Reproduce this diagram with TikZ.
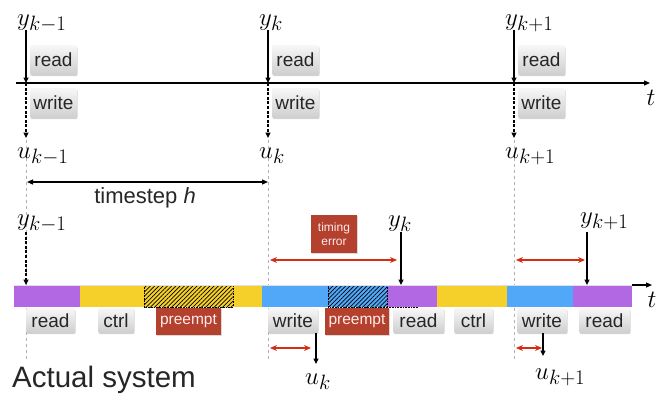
\documentclass[tikz,border=0pt]{standalone}
\usepackage[no-math]{fontspec}
\setmainfont{Liberation Sans}
\usetikzlibrary{arrows.meta,shadows,patterns.meta}
\DeclareMathSizes{27}{27}{21}{16}

\definecolor{cpurple}{RGB}{178,104,226}
\definecolor{cyellow}{RGB}{246,208,42}
\definecolor{cblue}{RGB}{82,168,248}
\definecolor{cbrick}{RGB}{180,64,46}
\definecolor{carrow}{RGB}{214,44,20}

\tikzset{
  gbox/.style={rounded corners=2pt, top color=gray!6, bottom color=gray!38,
    draw=none, text=black!85, inner sep=0pt,
    font=\fontsize{19}{19}\selectfont,
    drop shadow={shadow xshift=0.6pt, shadow yshift=-1.2pt, opacity=0.35}},
  rbox/.style={fill=cbrick, text=white!92!red, inner sep=0pt,
    font=\fontsize{15.5}{15.5}\selectfont,
    drop shadow={shadow xshift=0.6pt, shadow yshift=-1.2pt, opacity=0.3}},
  mlab/.style={inner sep=0pt, font=\fontsize{27}{27}\selectfont},
  sarrow/.style={line width=1.1pt, -{Triangle[length=5.5pt,width=5pt]}},
  darrow/.style={line width=1.1pt, dash pattern=on 3pt off 1.6pt,
    -{Triangle[length=5.5pt,width=5pt]}},
  guide/.style={gray!60, line width=0.8pt, dash pattern=on 3pt off 3pt},
  rarrow/.style={carrow, line width=1.1pt,
    {Stealth[length=7pt,width=6pt]}-{Stealth[length=7pt,width=6pt]}},
  tarrow/.style={line width=1.2pt, {Triangle[length=6pt,width=5pt]}-{Triangle[length=6pt,width=5pt]}},
  hatch/.style={pattern={Lines[angle=45,distance=3pt,line width=0.7pt]}},
}

\begin{document}
\begin{tikzpicture}[x=1pt,y=-1pt]
\useasboundingbox (0,0) rectangle (665,394);

% ---------- ideal timeline ----------
% grey guide lines through the sampling instants
\draw[guide] (26,140) -- (26,362);
\draw[guide] (268,140) -- (268,362);
\draw[guide] (514,140) -- (514,362);

\coordinate (tstart) at (16,83);
\coordinate (tend) at (650,83);
\draw[line width=1.2pt, -{Triangle[length=6pt,width=5pt]}] (tstart) -- (tend);
\node[mlab] (tlab) at (651,98) {$t$};

% one column per sampling instant
\foreach \x/\n/\ys/\us in {26/1/{k-1}/{k-1}, 268/2/{k}/{k}, 514/3/{k+1}/{k+1}}{
  \node[mlab, anchor=base west] (y\n) at (\x-9,25) {$y_{\ys}$};
  \node[mlab, anchor=base west] (u\n) at (\x-9,158) {$u_{\us}$};
  \coordinate (ya\n) at (\x,30);
  \coordinate (ax\n) at (\x,83);
  \coordinate (ua\n) at (\x,138);
  \draw[sarrow] (ya\n) -- (ax\n);
  \draw[darrow] (ax\n) -- (ua\n);
  \node[gbox, minimum width=47pt, minimum height=30pt] (rd\n) at (\x+27.5,60) {read};
  \node[gbox, minimum width=47pt, minimum height=30pt] (wr\n) at (\x+27.5,103) {write};
}

% timestep
\coordinate (hs) at (27,182);
\coordinate (he) at (268,182);
\draw[tarrow] (hs) -- (he);
\node[inner sep=0pt, font=\fontsize{22}{22}\selectfont, text=black!85]
  (hlab) at (145,198) {timestep \textit{h}};

% ---------- actual system ----------
% execution bar
\fill[cpurple] (14,285) rectangle (80,307);
\fill[cyellow] (80,285) rectangle (262,307);
\fill[cblue] (262,285) rectangle (387,307);
\fill[cpurple] (387,285) rectangle (437,307);
\fill[cyellow] (437,285) rectangle (507,307);
\fill[cblue] (507,285) rectangle (573,307);
\fill[cpurple] (573,285) rectangle (632,307);
% preempted intervals
\fill[hatch] (144,285) rectangle (233,307);
\draw[densely dotted, line width=0.6pt] (144,285) rectangle (233,307);
\fill[hatch] (328,285) rectangle (387,307);
\draw[densely dotted, line width=0.6pt] (328,285) rectangle (387,307) (387,307) -- (418,307);
\draw[gray!25, line width=0.8pt] (14,285) -- (632,285);

\coordinate (bend) at (632,285);
\coordinate (btip) at (652,285);
\draw[line width=1.2pt, -{Triangle[length=6pt,width=5pt]}] (bend) -- (btip);
\node[mlab] (tlab2) at (652,300) {$t$};

% task labels under the bar
\node[gbox, minimum width=49pt, minimum height=25pt] (b1) at (50.5,320.5) {read};
\node[gbox, minimum width=36pt, minimum height=25pt] (b2) at (116,320.5) {ctrl};
\node[rbox, minimum width=65pt, minimum height=27pt] (p1) at (188.5,321.5) {preempt};
\node[gbox, minimum width=50pt, minimum height=25pt] (b3) at (293,320.5) {write};
\node[rbox, minimum width=64pt, minimum height=27pt] (p2) at (357,321.5) {preempt};
\node[gbox, minimum width=51pt, minimum height=25pt] (b4) at (418.5,320.5) {read};
\node[gbox, minimum width=39pt, minimum height=25pt] (b5) at (473.5,320.5) {ctrl};
\node[gbox, minimum width=50pt, minimum height=25pt] (b6) at (542,320.5) {write};
\node[gbox, minimum width=51pt, minimum height=25pt] (b7) at (604.5,320.5) {read};

% measurements arriving
\node[mlab, anchor=base west] (ly1) at (17,225) {$y_{k-1}$};
\coordinate (ly1a) at (26,232);
\coordinate (ly1b) at (26,285);
\draw[darrow] (ly1a) -- (ly1b);

\node[mlab, anchor=base west] (ly2) at (388,226) {$y_{k}$};
\coordinate (ly2a) at (401,232);
\coordinate (ly2b) at (401,285);
\draw[sarrow] (ly2a) -- (ly2b);

\node[mlab, anchor=base west] (ly3) at (580,223) {$y_{k+1}$};
\coordinate (ly3a) at (587,232);
\coordinate (ly3b) at (587,285);
\draw[sarrow] (ly3a) -- (ly3b);

% timing errors
\node[rbox, minimum width=46pt, minimum height=38pt, align=center,
  font=\fontsize{12}{13.5}\selectfont] (te) at (334,234) {timing\\error};
\coordinate (e1a) at (270,260);
\coordinate (e1b) at (397,260);
\draw[rarrow] (e1a) -- (e1b);
\coordinate (e2a) at (516,260);
\coordinate (e2b) at (585,260);
\draw[rarrow] (e2a) -- (e2b);
\coordinate (e3a) at (270,348);
\coordinate (e3b) at (311,348);
\draw[rarrow] (e3a) -- (e3b);
\coordinate (e4a) at (516,348);
\coordinate (e4b) at (542,348);
\draw[rarrow] (e4a) -- (e4b);

% actuations leaving
\coordinate (lu1) at (316,364);
\draw[sarrow] (b3.south -| lu1) -- (lu1);
\node[mlab, anchor=base west] (lu1lab) at (305,384) {$u_{k}$};
\coordinate (lu2) at (543,356);
\draw[sarrow] (b6.south -| lu2) -- (lu2);
\node[mlab, anchor=base west] (lu2lab) at (535,379) {$u_{k+1}$};

\node[inner sep=0pt, anchor=base west, font=\fontsize{29.5}{29.5}\selectfont, text=black!85]
  (title) at (12,387) {Actual system};
\end{tikzpicture}
\end{document}
